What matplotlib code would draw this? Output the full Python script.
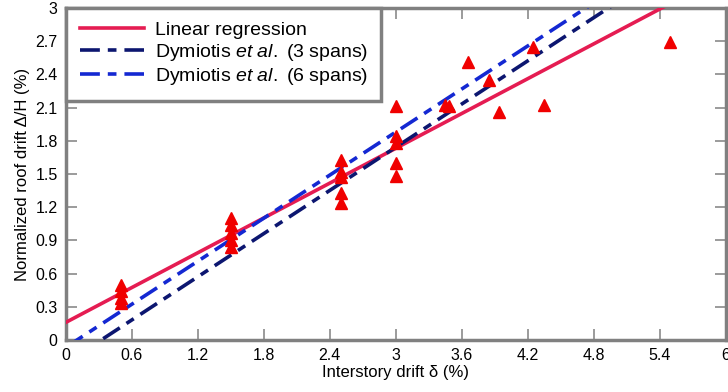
import matplotlib
matplotlib.use("Agg")
import matplotlib.pyplot as plt
import numpy as np

plt.rcParams['font.family'] = ['Liberation Sans', 'DejaVu Sans']
plt.rcParams['mathtext.fontset'] = 'custom'
plt.rcParams['mathtext.it'] = 'Liberation Sans:italic'
plt.rcParams['mathtext.rm'] = 'Liberation Sans'

# measured points (interstory drift %, normalized roof drift %)
drift_x = [0.5, 0.5, 0.5, 0.5,
           1.5, 1.5, 1.5, 1.5, 1.5,
           2.5, 2.5, 2.5, 2.5, 2.5,
           3.0, 3.0, 3.0, 3.0, 3.0,
           3.45, 3.48, 3.66, 3.85, 3.94, 4.25, 4.35, 5.49]
roof_y = [0.5, 0.44, 0.38, 0.33,
          1.1, 1.04, 0.97, 0.9, 0.84,
          1.63, 1.52, 1.47, 1.33, 1.24,
          2.11, 1.84, 1.78, 1.6, 1.48,
          2.12, 2.11, 2.51, 2.35, 2.06, 2.65, 2.12, 2.69]

# fitted lines: (intercept, slope)
lin_reg = (0.16, 0.524)
dym3 = (-0.208, 0.65)
dym6 = (-0.065, 0.648)

xticks = [0, 0.6, 1.2, 1.8, 2.4, 3, 3.6, 4.2, 4.8, 5.4, 6]
yticks = [0, 0.3, 0.6, 0.9, 1.2, 1.5, 1.8, 2.1, 2.4, 2.7, 3]

fig = plt.figure(figsize=(7.28, 3.92), dpi=100)
ax = fig.add_axes([0.0907, 0.1327, 0.906, 0.847])

xs = np.array([0, 6])
ax.plot(xs, lin_reg[0] + lin_reg[1] * xs, color='#e51c52', lw=2.6,
        label='Linear regression', zorder=3)
ax.plot(xs, dym3[0] + dym3[1] * xs, color='#0c1670', lw=2.6,
        ls=(0, (5.5, 2.2, 2.4, 2.2)),
        label='Dymiotis $\\it{et\\ al.}\\ $(3 spans)', zorder=3)
ax.plot(xs, dym6[0] + dym6[1] * xs, color='#1428d2', lw=2.6,
        ls=(0, (5.5, 2.2, 2.4, 2.2)),
        label='Dymiotis $\\it{et\\ al.}\\ $(6 spans)', zorder=3)
ax.plot(drift_x, roof_y, ls='none', marker='^', color='#f00000',
        markersize=9, zorder=4)

ax.set_xlim(0, 6)
ax.set_ylim(0, 3)
ax.set_xticks(xticks)
ax.set_yticks(yticks)
ax.set_xticklabels([f'{t:g}' for t in xticks])
ax.set_yticklabels([f'{t:g}' for t in yticks])
ax.tick_params(direction='in', length=8, width=1.2, color='#8a8a8a',
               top=True, right=True, labelsize=11.5, pad=6)
for s in ax.spines.values():
    s.set_color('#808080')
    s.set_linewidth(2.5)

ax.set_xlabel('Interstory drift δ (%)', fontsize=12, labelpad=1)
ax.set_ylabel('Normalized roof drift Δ/H (%)', fontsize=12, labelpad=4)

leg = ax.legend(loc='upper left', fontsize=14, handlelength=3.3,
                borderaxespad=0, fancybox=False, framealpha=1,
                labelspacing=0.15, borderpad=0.7, handletextpad=0.55)
leg.get_frame().set_edgecolor('#808080')
leg.get_frame().set_linewidth(2.5)

fig.savefig('out.png', dpi=100)
